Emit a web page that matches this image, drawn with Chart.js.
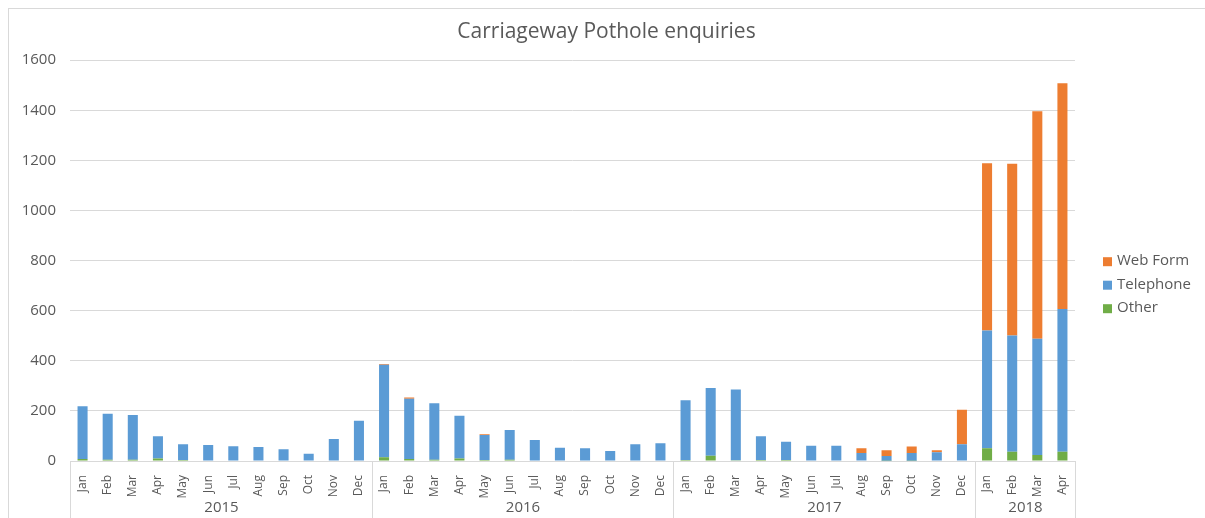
<!DOCTYPE html>
<html>
<head>
<meta charset="utf-8">
<title>Carriageway Pothole enquiries</title>
<script src="https://cdn.jsdelivr.net/npm/chart.js@4"></script>
<style>
  html, body { margin: 0; padding: 0; background: #fff; }
  #wrap { width: 1205px; height: 518px; }
</style>
</head>
<body>
<div id="wrap"><canvas id="potholes" width="1205" height="518"></canvas></div>
<script>
// month labels per year group (Jan 2015 - Apr 2018)
const monthNames = ['Jan', 'Feb', 'Mar', 'Apr', 'May', 'Jun', 'Jul', 'Aug', 'Sep', 'Oct', 'Nov', 'Dec'];
const years = ['2015', '2016', '2017', '2018'];
const monthsPerYear = [12, 12, 12, 4];

// values, one per month
const other = [
    8, 5, 5, 10, 4, 0, 0, 0, 0, 0, 0, 0,
    15, 8, 5, 10, 4, 5, 0, 0, 0, 0, 0, 0,
    4, 21, 3, 4, 4, 2, 2, 2, 1, 1, 2, 2,
    51, 37, 24, 37
];
const telephone = [
    211, 184, 179, 89, 63, 64, 59, 56, 47, 29, 88, 161,
    369, 241, 226, 171, 100, 119, 84, 53, 51, 40, 67, 71,
    239, 270, 282, 95, 73, 59, 59, 30, 19, 31, 33, 65,
    470, 464, 464, 570
];
const webForm = [
    0, 0, 0, 0, 0, 0, 0, 0, 0, 0, 0, 0,
    3, 4, 0, 0, 3, 0, 0, 0, 0, 0, 0, 0,
    0, 0, 0, 0, 0, 0, 0, 19, 23, 26, 8, 138,
    668, 686, 908, 901
];

const labels = [];
monthsPerYear.forEach(n => {
    for (let i = 0; i < n; i++) labels.push(monthNames[i]);
});

const textColor = '#595959';
const lineColor = '#d9d9d9';
Chart.defaults.font.family = "'Open Sans', sans-serif";

// outer frame of the chart area
const framePlugin = {
    id: 'frame',
    beforeDraw(chart) {
        const ctx = chart.ctx;
        ctx.save();
        ctx.strokeStyle = lineColor;
        ctx.lineWidth = 1;
        ctx.strokeRect(8.5, 8.5, chart.width + 10, chart.height + 10);
        ctx.restore();
    }
};

// year groups under the month labels
const yearGroups = {
    id: 'yearGroups',
    afterDraw(chart) {
        const xs = chart.scales.x;
        const ctx = chart.ctx;
        const half = (xs.getPixelForValue(1) - xs.getPixelForValue(0)) / 2;
        ctx.save();
        ctx.strokeStyle = lineColor;
        ctx.lineWidth = 1;
        ctx.fillStyle = textColor;
        ctx.font = "15px 'Open Sans', sans-serif";
        ctx.textAlign = 'center';
        ctx.textBaseline = 'middle';
        let start = 0;
        years.forEach((yr, i) => {
            const n = monthsPerYear[i];
            const left = Math.round(xs.getPixelForValue(start) - half) + 0.5;
            const right = Math.round(xs.getPixelForValue(start + n - 1) + half) + 0.5;
            ctx.beginPath();
            ctx.moveTo(left, xs.top);
            ctx.lineTo(left, chart.height);
            if (i === years.length - 1) {
                ctx.moveTo(right, xs.top);
                ctx.lineTo(right, chart.height);
            }
            ctx.stroke();
            ctx.fillText(yr, (left + right) / 2, xs.top + 47);
            start += n;
        });
        ctx.restore();
    }
};

// legend on the right, top series first
const sideLegend = {
    id: 'sideLegend',
    afterDraw(chart) {
        const ctx = chart.ctx;
        const area = chart.chartArea;
        const items = chart.data.datasets.slice().reverse();
        ctx.save();
        ctx.font = "15px 'Open Sans', sans-serif";
        ctx.textBaseline = 'middle';
        ctx.textAlign = 'left';
        items.forEach((ds, i) => {
            const cy = area.top + 201 + i * 23.5;
            const x = area.right + 28;
            ctx.fillStyle = ds.backgroundColor;
            ctx.fillRect(x, cy - 4, 9, 9);
            ctx.fillStyle = textColor;
            ctx.fillText(ds.label, x + 14, cy);
        });
        ctx.restore();
    }
};

new Chart(document.getElementById('potholes').getContext('2d'), {
    type: 'bar',
    data: {
        labels: labels,
        datasets: [
            { label: 'Other', data: other, backgroundColor: '#70ad47' },
            { label: 'Telephone', data: telephone, backgroundColor: '#5b9bd5' },
            { label: 'Web Form', data: webForm, backgroundColor: '#ed7d31' }
        ]
    },
    options: {
        responsive: false,
        animation: false,
        layout: { padding: { left: 8, top: 8, right: 0, bottom: 0 } },
        datasets: {
            bar: { barPercentage: 0.4, categoryPercentage: 1.0, borderWidth: 0 }
        },
        scales: {
            x: {
                stacked: true,
                grid: { display: false },
                border: { display: true, color: lineColor },
                ticks: {
                    autoSkip: false,
                    minRotation: 90,
                    maxRotation: 90,
                    padding: 6,
                    color: textColor,
                    font: { size: 12 }
                },
                afterFit: s => { s.height = 57; }
            },
            y: {
                stacked: true,
                min: 0,
                max: 1600,
                grid: { color: lineColor, drawTicks: false },
                border: { display: false },
                ticks: {
                    stepSize: 200,
                    padding: 14,
                    color: textColor,
                    font: { size: 15 },
                    callback: v => String(v)
                },
                afterFit: s => { s.width = 62; }
            },
            // empty box on the right that keeps room for the legend
            legendSpace: {
                position: 'right',
                display: true,
                grid: { display: false },
                border: { display: false },
                ticks: { display: false },
                afterFit: s => { s.width = 130; }
            }
        },
        plugins: {
            legend: { display: false },
            tooltip: { enabled: false },
            title: {
                display: true,
                text: 'Carriageway Pothole enquiries',
                color: textColor,
                font: { size: 21, weight: 'normal' },
                padding: { top: 11, bottom: 16 }
            }
        }
    },
    plugins: [framePlugin, yearGroups, sideLegend]
});
</script>
</body>
</html>
